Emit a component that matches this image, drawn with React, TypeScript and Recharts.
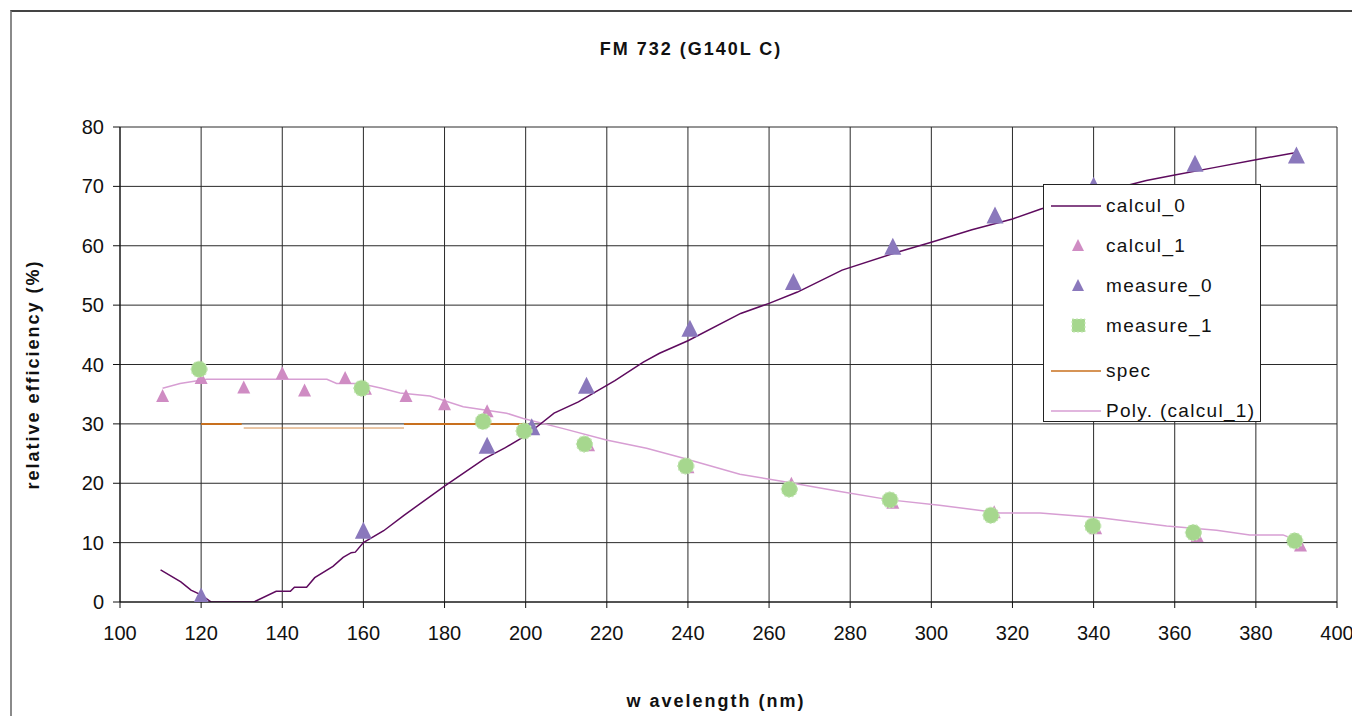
import React from 'react';
import {
  ComposedChart,
  Line,
  Scatter,
  XAxis,
  YAxis,
  CartesianGrid,
  Legend,
} from 'recharts';

const FONT = '"Liberation Sans", Arial, sans-serif';

const CALC0_COLOR = '#5e0b5e';
const CALC1_COLOR = '#cf8cc3';
const MEAS0_COLOR = '#8a78bc';
const MEAS1_COLOR = '#a6d78e';
const SPEC_COLOR = '#c8701e';
const POLY_COLOR = '#d79ed3';

const xTicks = [100, 120, 140, 160, 180, 200, 220, 240, 260, 280, 300, 320, 340, 360, 380, 400];
const yTicks = [0, 10, 20, 30, 40, 50, 60, 70, 80];

const calcul0 = [
  { x: 110, y: 5.4 }, { x: 115, y: 3.4 }, { x: 117.5, y: 2.0 }, { x: 120, y: 1.2 },
  { x: 122.5, y: 0 }, { x: 133, y: 0 }, { x: 138.5, y: 1.8 }, { x: 142, y: 1.8 },
  { x: 143, y: 2.5 }, { x: 146, y: 2.5 }, { x: 148, y: 4.1 }, { x: 152.5, y: 6.0 },
  { x: 155, y: 7.5 }, { x: 157, y: 8.3 }, { x: 158, y: 8.4 }, { x: 160, y: 10 },
  { x: 165, y: 12 }, { x: 170, y: 14.6 }, { x: 180, y: 19.5 }, { x: 190, y: 24.2 },
  { x: 195, y: 26 }, { x: 200, y: 28 }, { x: 207, y: 31.8 }, { x: 213, y: 33.7 },
  { x: 222, y: 37.3 }, { x: 229, y: 40.4 }, { x: 233, y: 41.9 }, { x: 240, y: 44 },
  { x: 253, y: 48.6 }, { x: 260, y: 50.3 }, { x: 267, y: 52.2 }, { x: 278, y: 55.9 },
  { x: 292, y: 59 }, { x: 300, y: 60.6 }, { x: 310, y: 62.7 }, { x: 320, y: 64.5 },
  { x: 327, y: 66.2 }, { x: 340, y: 68.7 }, { x: 353, y: 71 }, { x: 360, y: 71.9 },
  { x: 370, y: 73.2 }, { x: 380, y: 74.5 }, { x: 390, y: 75.7 },
];

const calcul1 = [
  { x: 110.5, y: 34.8 }, { x: 120, y: 37.8 }, { x: 130.5, y: 36.2 }, { x: 140, y: 38.6 },
  { x: 145.5, y: 35.7 }, { x: 155.5, y: 37.8 }, { x: 160.5, y: 36 }, { x: 170.5, y: 34.8 },
  { x: 180, y: 33.4 }, { x: 190.5, y: 32.2 }, { x: 215.5, y: 26.5 }, { x: 240, y: 22.8 },
  { x: 265.5, y: 20 }, { x: 290.5, y: 16.8 }, { x: 315.5, y: 15.2 }, { x: 340.5, y: 12.5 },
  { x: 365.5, y: 11.2 }, { x: 391, y: 9.6 },
];

const measure0 = [
  { x: 120, y: 1 }, { x: 160, y: 12.1 }, { x: 190.5, y: 26.4 }, { x: 201.5, y: 29.5 },
  { x: 215, y: 36.5 }, { x: 240.5, y: 46.1 }, { x: 266, y: 54 }, { x: 290.5, y: 59.9 },
  { x: 315.7, y: 65.2 }, { x: 340, y: 70.2 }, { x: 365, y: 73.9 }, { x: 390, y: 75.3 },
];

const measure1 = [
  { x: 119.5, y: 39.2 }, { x: 159.6, y: 36 }, { x: 189.5, y: 30.4 }, { x: 199.6, y: 28.8 },
  { x: 214.5, y: 26.6 }, { x: 239.5, y: 22.9 }, { x: 265, y: 19 }, { x: 289.8, y: 17.2 },
  { x: 314.7, y: 14.6 }, { x: 339.8, y: 12.8 }, { x: 364.6, y: 11.7 }, { x: 389.6, y: 10.3 },
];

const spec = [
  { x: 120, y: 30 }, { x: 130, y: 30 }, { x: 150, y: null }, { x: 170, y: 30 }, { x: 200, y: 30 },
];
const specLow = [{ x: 130.5, y: 29.3 }, { x: 170, y: 29.3 }];

const polyCalcul1 = [
  { x: 110.5, y: 36 }, { x: 114.8, y: 36.8 }, { x: 121.4, y: 37.5 }, { x: 151, y: 37.5 },
  { x: 153.4, y: 36.8 }, { x: 159.2, y: 36.8 }, { x: 164.5, y: 36 }, { x: 169, y: 35.2 },
  { x: 176.4, y: 34.7 }, { x: 184.6, y: 32.9 }, { x: 195.3, y: 31.8 }, { x: 199.4, y: 30.9 },
  { x: 209.3, y: 29.2 }, { x: 219.9, y: 27.3 }, { x: 229.8, y: 25.9 }, { x: 238.5, y: 24.3 },
  { x: 252.8, y: 21.5 }, { x: 263.5, y: 20.3 }, { x: 277.5, y: 18.6 }, { x: 289.8, y: 17.2 },
  { x: 302, y: 16.3 }, { x: 316.9, y: 15 }, { x: 326.8, y: 15 }, { x: 341.6, y: 14.2 },
  { x: 358, y: 12.8 }, { x: 370.3, y: 12.1 }, { x: 378.5, y: 11.3 }, { x: 386.7, y: 11.3 },
  { x: 390, y: 10.4 },
];

const triangle = (color: string, w: number, h: number) => (props: any) => {
  const { cx, cy } = props;
  if (cx == null || cy == null) return <g />;
  return (
    <polygon
      points={`${cx},${cy - h / 2} ${cx + w / 2},${cy + h / 2} ${cx - w / 2},${cy + h / 2}`}
      fill={color}
    />
  );
};

const blob = (props: any) => {
  const { cx, cy } = props;
  if (cx == null || cy == null) return <g />;
  return (
    <circle cx={cx} cy={cy} r={8} fill={MEAS1_COLOR} stroke="#c4e6b4" strokeWidth={1.2} strokeDasharray="2 2" />
  );
};

const legendItems = [
  { label: 'calcul_0', kind: 'line', color: CALC0_COLOR },
  { label: 'calcul_1', kind: 'tri', color: CALC1_COLOR },
  { label: 'measure_0', kind: 'tri', color: MEAS0_COLOR },
  { label: 'measure_1', kind: 'sq', color: MEAS1_COLOR },
  { label: 'spec', kind: 'line', color: SPEC_COLOR },
  { label: 'Poly. (calcul_1)', kind: 'line', color: POLY_COLOR },
];

const LegendBox = () => (
  <div
    style={{
      width: 218,
      height: 238,
      background: '#fff',
      border: '1px solid #222',
      boxSizing: 'border-box',
      paddingTop: 1,
      fontFamily: FONT,
      fontSize: 19,
      letterSpacing: 1.3,
      color: '#111',
    }}
  >
    {legendItems.map((it, i) => (
      <div key={it.label} style={{ display: 'flex', alignItems: 'center', height: 40, marginTop: i === 4 ? 5 : 0 }}>
        <svg width={62} height={20} style={{ marginLeft: 7 }}>
          {it.kind === 'line' && <line x1={0} y1={10} x2={50} y2={10} stroke={it.color} strokeWidth={1.5} />}
          {it.kind === 'tri' && <polygon points="27,3 33,15 21,15" fill={it.color} />}
          {it.kind === 'sq' && <rect x={21} y={3} width={13} height={13} fill={it.color} stroke="#c4e6b4" strokeDasharray="2 2" />}
        </svg>
        <span style={{ marginLeft: -7 }}>{it.label}</span>
      </div>
    ))}
  </div>
);

export default function App() {
  return (
    <div style={{ position: 'absolute', left: 0, top: 0, width: 1352, height: 716, overflow: 'hidden', background: '#fff' }}>
      <div
        style={{
          position: 'absolute', left: 10, top: 10, width: 1400, height: 800,
          borderLeft: '2px solid #8a8a8a', borderTop: '2px solid #444',
        }}
      />
      <div
        style={{
          position: 'absolute', left: 0, top: 39, width: 1382, textAlign: 'center',
          fontFamily: FONT, fontWeight: 'bold', fontSize: 18, letterSpacing: 2, color: '#111',
        }}
      >
        FM 732 (G140L C)
      </div>
      <div
        style={{
          position: 'absolute', left: 0, top: 691, width: 1432, textAlign: 'center',
          fontFamily: FONT, fontWeight: 'bold', fontSize: 18, letterSpacing: 2, color: '#111',
        }}
      >
        w avelength (nm)
      </div>
      <div
        style={{
          position: 'absolute', left: 33, top: 376, width: 0, height: 0,
        }}
      >
        <div
          style={{
            position: 'absolute', left: -150, top: -12, width: 300, textAlign: 'center',
            transform: 'rotate(-90deg)', fontFamily: FONT, fontWeight: 'bold', fontSize: 18,
            letterSpacing: 2, color: '#111', whiteSpace: 'nowrap',
          }}
        >
          relative efficiency (%)
        </div>
      </div>
      <div style={{ position: 'absolute', left: 0, top: 0 }}>
        <ComposedChart width={1352} height={716} margin={{ top: 127, right: 15, bottom: 84, left: 60 }}>
          <CartesianGrid stroke="#2a2a2a" strokeWidth={1} />
          <XAxis
            dataKey="x"
            type="number"
            domain={[100, 400]}
            ticks={xTicks}
            interval={0}
            height={30}
            allowDataOverflow
            stroke="#111"
            tickSize={6}
            tickMargin={18}
            tick={{ fill: '#111', fontSize: 20, fontFamily: FONT }}
          />
          <YAxis
            dataKey="y"
            type="number"
            domain={[0, 80]}
            ticks={yTicks}
            interval={0}
            width={60}
            allowDataOverflow
            stroke="#111"
            tickSize={7}
            tickMargin={9}
            tick={{ fill: '#111', fontSize: 20, fontFamily: FONT }}
          />
          <Legend
            layout="horizontal"
            verticalAlign="middle"
            align="center"
            wrapperStyle={{ left: 1043, top: 184, width: 218, height: 238 }}
            content={() => <LegendBox />}
          />
          <Line data={spec} dataKey="y" name="spec" stroke={SPEC_COLOR} strokeWidth={2} dot={false} isAnimationActive={false} legendType="none" />
          <Line data={specLow} dataKey="y" name="spec_low" stroke={SPEC_COLOR} strokeWidth={1} strokeOpacity={0.8} dot={false} isAnimationActive={false} legendType="none" />
          <Line data={polyCalcul1} dataKey="y" name="Poly. (calcul_1)" type="linear" stroke={POLY_COLOR} strokeWidth={1.5} dot={false} isAnimationActive={false} />
          <Line data={calcul0} dataKey="y" name="calcul_0" type="linear" stroke={CALC0_COLOR} strokeWidth={1.5} dot={false} isAnimationActive={false} />
          <Scatter data={calcul1} dataKey="y" name="calcul_1" shape={triangle(CALC1_COLOR, 13, 13)} isAnimationActive={false} />
          <Scatter data={measure0} dataKey="y" name="measure_0" shape={triangle(MEAS0_COLOR, 17, 17)} isAnimationActive={false} />
          <Scatter data={measure1} dataKey="y" name="measure_1" shape={blob} isAnimationActive={false} />
        </ComposedChart>
      </div>
    </div>
  );
}
